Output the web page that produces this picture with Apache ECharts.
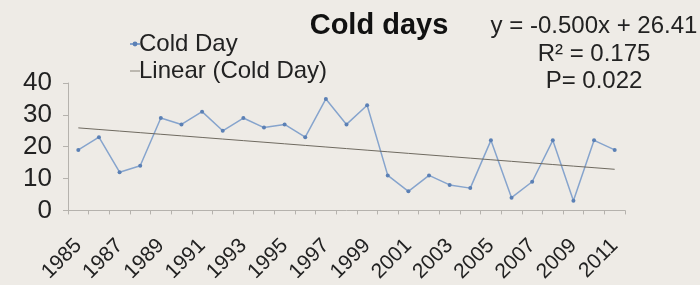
<!DOCTYPE html>
<html lang="en">
  <head>
    <meta charset="UTF-8" />
    <script src="https://cdn.jsdelivr.net/npm/echarts@6/dist/echarts.min.js"></script>
    <style>
      html,
      body {
        margin: 0;
        overflow: hidden;
        background: #eeebe6;
      }
      #viewport {
        position: absolute;
        left: 0px;
        top: 0px;
        width: 700px;
        height: 285px;
      }
    </style>
  </head>
  <body>
    <div id="viewport"></div>
    <script>
      var years = [
        '1985', '1986', '1987', '1988', '1989', '1990', '1991', '1992', '1993',
        '1994', '1995', '1996', '1997', '1998', '1999', '2000', '2001', '2002',
        '2003', '2004', '2005', '2006', '2007', '2008', '2009', '2010', '2011'
      ];
      var coldDays = [
        19, 23, 12, 14, 29, 27, 31, 25, 29, 26, 27, 23, 35, 27, 33, 11, 6, 11,
        8, 7, 22, 4, 9, 22, 3, 22, 19
      ];
      // regression from the chart label: y = -0.500x + 26.41 (x = 1..n)
      var slope = -0.5;
      var intercept = 26.41;
      var statLines = ['y = -0.500x + 26.41', 'R\u00b2 = 0.175', 'P= 0.022'];

      var trend = years.map(function (y, i) {
        return +(slope * (i + 1) + intercept).toFixed(2);
      });

      var font = 'Liberation Sans, Arial, sans-serif';
      var myChart = echarts.init(document.getElementById('viewport'));

      // stats block, one centred line each
      var statY = [26, 54, 81];
      var statGraphics = statLines.map(function (t, i) {
        return {
          type: 'text',
          x: 594,
          y: statY[i],
          style: {
            text: t,
            font: '24px ' + font,
            fill: '#222',
            align: 'center',
            verticalAlign: 'middle'
          }
        };
      });

      var option = {
        animation: false,
        backgroundColor: '#eeebe6',
        textStyle: { fontFamily: font },
        title: {
          text: 'Cold days',
          left: 374,
          top: 6,
          textAlign: 'center',
          textStyle: {
            fontFamily: font,
            fontSize: 29,
            fontWeight: 'bold',
            color: '#111'
          }
        },
        legend: {
          orient: 'vertical',
          left: 124,
          top: 27,
          itemWidth: 10,
          itemHeight: 6,
          itemGap: 3,
          textStyle: {
            fontFamily: font,
            fontSize: 24,
            color: '#222',
            padding: [0, 0, 0, -6]
          },
          data: [
            { name: 'Cold Day' },
            {
              name: 'Linear (Cold Day)',
              icon: 'path://M0,0 L10,0 L10,1 L0,1 Z',
              itemStyle: { color: '#8a857a' }
            }
          ]
        },
        graphic: statGraphics,
        grid: {
          left: 68,
          right: 75,
          top: 83,
          bottom: 74
        },
        xAxis: {
          type: 'category',
          data: years,
          boundaryGap: true,
          axisLine: { lineStyle: { color: '#b5b2ad', width: 1 } },
          axisTick: {
            show: true,
            interval: 0,
            length: 4,
            lineStyle: { color: '#b5b2ad' }
          },
          axisLabel: {
            interval: 1,
            rotate: 45,
            fontSize: 21,
            color: '#222',
            fontFamily: font,
            margin: 32
          }
        },
        yAxis: {
          type: 'value',
          min: 0,
          max: 40,
          interval: 10,
          splitLine: { show: false },
          axisLine: { show: true, lineStyle: { color: '#b5b2ad' } },
          axisTick: { show: true, length: 5, lineStyle: { color: '#b5b2ad' } },
          axisLabel: {
            fontSize: 26,
            color: '#222',
            fontFamily: font,
            margin: 16
          }
        },
        series: [
          {
            name: 'Cold Day',
            type: 'line',
            data: coldDays,
            symbol: 'circle',
            symbolSize: 4,
            itemStyle: { color: '#5b80b5' },
            lineStyle: { color: '#86a4cd', width: 1.5 }
          },
          {
            name: 'Linear (Cold Day)',
            type: 'line',
            data: trend,
            symbol: 'none',
            itemStyle: { color: '#8a857a' },
            lineStyle: { color: '#6f6a60', width: 1 }
          }
        ]
      };

      myChart.setOption(option);
    </script>
  </body>
</html>
